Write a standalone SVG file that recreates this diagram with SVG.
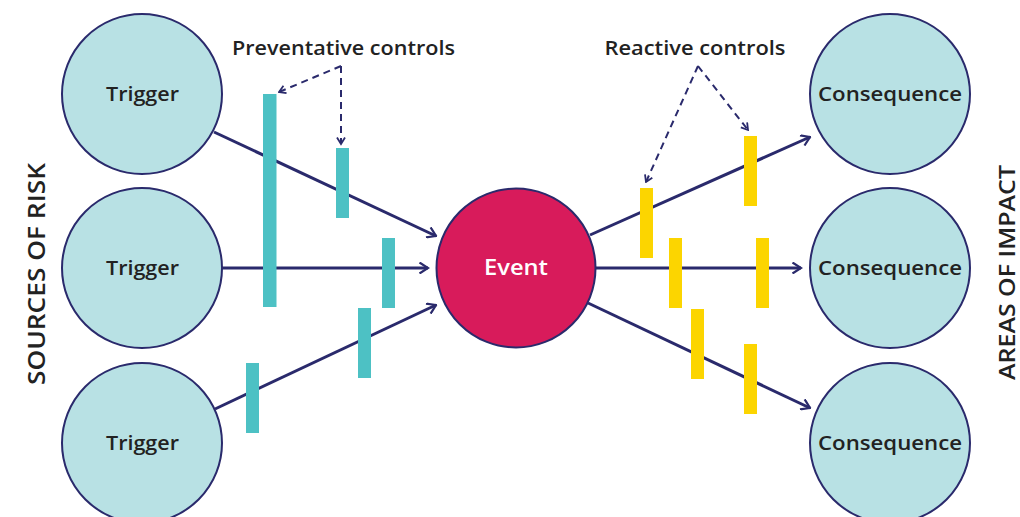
<svg xmlns="http://www.w3.org/2000/svg" width="1020" height="517" viewBox="0 0 1020 517">
  <style>
    .node { fill: #b8e1e4; stroke: #2a2a6c; stroke-width: 2; }
    .event { fill: #d81b5b; stroke: #2a2a6c; stroke-width: 2; }
    .lbl { font-family: "Open Sans", "Liberation Sans", sans-serif; font-weight: 600; fill: #222222; text-anchor: middle; }
    .conn { stroke: #2a2a6c; stroke-width: 3; fill: none; marker-end: url(#arr); }
    .dash { stroke: #2a2a6c; stroke-width: 2; fill: none; stroke-dasharray: 7 5; marker-end: url(#arrs); }
    .teal { fill: #4dc1c4; }
    .yel { fill: #fcd500; }
  </style>
  <defs>
    <marker id="arr" markerUnits="userSpaceOnUse" viewBox="0 0 12 12" refX="10.5" refY="6" markerWidth="12" markerHeight="12" orient="auto">
      <path d="M2,0.5 L10.5,6 L2,11.5" fill="none" stroke="#2a2a6c" stroke-width="2.2"/>
    </marker>
    <marker id="arrs" markerUnits="userSpaceOnUse" viewBox="0 0 10 10" refX="8.5" refY="5" markerWidth="10" markerHeight="10" orient="auto">
      <path d="M2,1 L8.5,5 L2,9" fill="none" stroke="#2a2a6c" stroke-width="1.8"/>
    </marker>
  </defs>

  <rect width="1020" height="517" fill="#ffffff"/>

  <g id="connectors">
    <line class="conn" x1="214" y1="132" x2="436" y2="236"/>
    <line class="conn" x1="222" y1="268" x2="428" y2="268"/>
    <line class="conn" x1="215" y1="409" x2="436" y2="305"/>
    <line class="conn" x1="590" y1="235" x2="810" y2="137"/>
    <line class="conn" x1="596" y1="268" x2="801" y2="268"/>
    <line class="conn" x1="588" y1="303" x2="810" y2="408"/>
    <polyline class="dash" points="341,66 279,92"/>
    <polyline class="dash" points="341,66 341,144"/>
    <polyline class="dash" points="698,66 646,182"/>
    <polyline class="dash" points="698,66 748,130"/>
  </g>

  <g id="preventative-controls">
    <rect class="teal" x="263" y="94" width="13.5" height="213"/>
    <rect class="teal" x="336" y="148" width="13" height="70"/>
    <rect class="teal" x="382" y="238" width="13" height="70"/>
    <rect class="teal" x="358" y="308" width="13" height="70"/>
    <rect class="teal" x="246" y="363" width="13" height="70"/>
  </g>

  <g id="reactive-controls">
    <rect class="yel" x="640" y="188" width="13" height="70"/>
    <rect class="yel" x="744" y="136" width="13" height="70"/>
    <rect class="yel" x="669" y="238" width="13" height="70"/>
    <rect class="yel" x="756" y="238" width="13" height="70"/>
    <rect class="yel" x="691" y="309" width="13" height="70"/>
    <rect class="yel" x="744" y="344" width="13" height="70"/>
  </g>

  <g id="trigger1">
    <circle class="node" cx="142" cy="94" r="80"/>
    <text class="lbl" x="142.5" y="101" font-size="20" textLength="73" lengthAdjust="spacingAndGlyphs">Trigger</text>
  </g>
  <g id="trigger2">
    <circle class="node" cx="142" cy="268" r="80"/>
    <text class="lbl" x="142.5" y="275" font-size="20" textLength="73" lengthAdjust="spacingAndGlyphs">Trigger</text>
  </g>
  <g id="trigger3">
    <circle class="node" cx="142" cy="443" r="80"/>
    <text class="lbl" x="142.5" y="450" font-size="20" textLength="73" lengthAdjust="spacingAndGlyphs">Trigger</text>
  </g>

  <g id="event">
    <circle class="event" cx="516" cy="268" r="79.5"/>
    <text class="lbl" x="516" y="275" font-size="21" fill="#ffffff" style="fill:#ffffff" textLength="64" lengthAdjust="spacingAndGlyphs">Event</text>
  </g>

  <g id="consequence1">
    <circle class="node" cx="890" cy="94" r="80"/>
    <text class="lbl" x="890" y="101" font-size="20" textLength="144" lengthAdjust="spacingAndGlyphs">Consequence</text>
  </g>
  <g id="consequence2">
    <circle class="node" cx="890" cy="268" r="80"/>
    <text class="lbl" x="890" y="275" font-size="20" textLength="144" lengthAdjust="spacingAndGlyphs">Consequence</text>
  </g>
  <g id="consequence3">
    <circle class="node" cx="890" cy="443" r="80"/>
    <text class="lbl" x="890" y="450" font-size="20" textLength="144" lengthAdjust="spacingAndGlyphs">Consequence</text>
  </g>

  <g id="labels">
    <text class="lbl" x="343.5" y="55" font-size="19" textLength="223" lengthAdjust="spacingAndGlyphs">Preventative controls</text>
    <text class="lbl" x="695" y="55" font-size="19" textLength="181" lengthAdjust="spacingAndGlyphs">Reactive controls</text>
    <text class="lbl" transform="translate(45,274) rotate(-90)" x="0" y="0" font-size="23" textLength="222" lengthAdjust="spacingAndGlyphs">SOURCES OF RISK</text>
    <text class="lbl" transform="translate(1015,272.5) rotate(-90)" x="0" y="0" font-size="22" textLength="215" lengthAdjust="spacingAndGlyphs">AREAS OF IMPACT</text>
  </g>
</svg>
